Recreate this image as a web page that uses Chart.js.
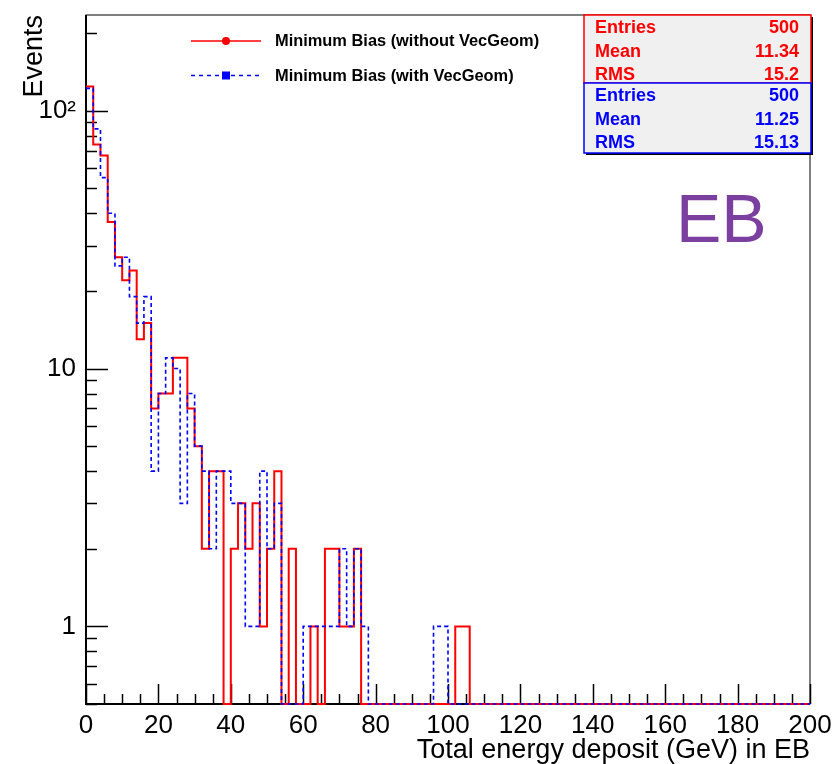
<!DOCTYPE html>
<html>
<head>
<meta charset="utf-8">
<title>Total energy deposit in EB</title>
<script src="https://cdn.jsdelivr.net/npm/chart.js@4.4.1/dist/chart.umd.min.js"></script>
<style>
  html, body { margin: 0; padding: 0; background: #fff; }
  #wrap { position: relative; width: 836px; height: 764px; }
</style>
</head>
<body>
<div id="wrap"><canvas id="edep"></canvas></div>
<script>
// histogram: 100 bins of 2 GeV between 0 and 200
const binWidth = 2;
const xMin = 0;
const xMax = 200;
const yMin = 0.5;
const yMax = 235;

const withoutVecGeom = [
  124, 74, 67, 37, 27, 22, 24, 13, 15, 7,
  8, 8, 11, 11, 7, 5, 2, 4, 4, 0,
  2, 3, 2, 3, 1, 2, 4, 0, 2, 0,
  0, 1, 0, 2, 2, 1, 1, 2, 0, 0,
  0, 0, 0, 0, 0, 0, 0, 0, 0, 0,
  0, 1, 1, 0, 0, 0, 0, 0, 0, 0,
  0, 0, 0, 0, 0, 0, 0, 0, 0, 0,
  0, 0, 0, 0, 0, 0, 0, 0, 0, 0,
  0, 0, 0, 0, 0, 0, 0, 0, 0, 0,
  0, 0, 0, 0, 0, 0, 0, 0, 0, 0
];
const withVecGeom = [
  122, 85, 55, 40, 25, 27, 19, 15, 19, 4,
  8, 11, 10, 3, 8, 5, 4, 2, 4, 4,
  3, 3, 1, 1, 4, 2, 3, 0, 0, 0,
  1, 1, 1, 1, 1, 2, 1, 2, 1, 0,
  0, 0, 0, 0, 0, 0, 0, 0, 1, 1,
  0, 0, 0, 0, 0, 0, 0, 0, 0, 0,
  0, 0, 0, 0, 0, 0, 0, 0, 0, 0,
  0, 0, 0, 0, 0, 0, 0, 0, 0, 0,
  0, 0, 0, 0, 0, 0, 0, 0, 0, 0,
  0, 0, 0, 0, 0, 0, 0, 0, 0, 0
];
const seriesNames = ["Minimum Bias (without VecGeom)", "Minimum Bias (with VecGeom)"];

const statLabels = ["Entries", "Mean", "RMS"];
const statsWithout = ["500", "11.34", "15.2"];
const statsWith = ["500", "11.25", "15.13"];

const yTickValues = [1, 10, 100];
const yTickLabels = ["1", "10", "10²"];
const xStep = 20;
const xMinorStep = 5;

const FONT = "'Liberation Sans', Arial, Helvetica, sans-serif";
const RED = "#ff0000";
const BLUE = "#0000ff";

Chart.defaults.font.family = FONT;

// empty bins sit on the bottom of the log axis
function histPoints(counts) {
  const pts = counts.map((c, i) => ({ x: i * binWidth, y: c > 0 ? c : yMin }));
  pts.push({ x: counts.length * binWidth, y: pts[pts.length - 1].y });
  return pts;
}

// ROOT style frame with ticks pointing inwards
const frameTicks = {
  id: "frameTicks",
  beforeDatasetsDraw(chart) {
    const { ctx, chartArea: a, scales: { x, y } } = chart;
    ctx.save();
    ctx.strokeStyle = "#000";
    ctx.lineWidth = 1.5;
    ctx.beginPath();
    for (let v = xMin; v <= xMax; v += xMinorStep) {
      const px = Math.round(x.getPixelForValue(v)) + 0.5;
      const len = v % xStep === 0 ? 20 : 10;
      ctx.moveTo(px, a.bottom);
      ctx.lineTo(px, a.bottom - len);
    }
    for (let d = 0.1; d <= yMax; d *= 10) {
      for (let k = 1; k <= 9; k++) {
        const v = k * d;
        if (v < yMin || v > yMax) continue;
        const py = Math.round(y.getPixelForValue(v)) + 0.5;
        const len = k === 1 ? 22 : 11;
        ctx.moveTo(a.left, py);
        ctx.lineTo(a.left + len, py);
      }
    }
    ctx.stroke();
    ctx.lineWidth = 1;
    ctx.strokeRect(a.left, a.top, a.right - a.left, a.bottom - a.top);
    ctx.lineWidth = 2;
    ctx.beginPath();
    ctx.moveTo(a.left, a.top);
    ctx.lineTo(a.left, a.bottom);
    ctx.lineTo(a.right, a.bottom);
    ctx.stroke();
    ctx.restore();
  }
};

function statsBox(ctx, x, y, w, h, color, values) {
  ctx.fillStyle = "#000";
  ctx.fillRect(x + 2, y + 2, w, h);
  ctx.fillStyle = "#f0f0f0";
  ctx.fillRect(x, y, w, h);
  ctx.strokeStyle = color;
  ctx.lineWidth = 1.5;
  ctx.strokeRect(x, y, w, h);
  ctx.fillStyle = color;
  ctx.font = "bold 18px " + FONT;
  ctx.textBaseline = "alphabetic";
  statLabels.forEach((lab, i) => {
    const by = y + 18 + i * 23.5;
    ctx.textAlign = "left";
    ctx.fillText(lab, x + 11, by);
    ctx.textAlign = "right";
    ctx.fillText(values[i], x + w - 12, by);
  });
}

const overlay = {
  id: "overlay",
  afterDraw(chart) {
    const ctx = chart.ctx;
    ctx.save();

    // legend
    ctx.lineWidth = 1.5;
    ctx.strokeStyle = RED;
    ctx.beginPath();
    ctx.moveTo(191, 41);
    ctx.lineTo(261, 41);
    ctx.stroke();
    ctx.fillStyle = RED;
    ctx.beginPath();
    ctx.arc(226, 41, 4, 0, Math.PI * 2);
    ctx.fill();

    ctx.strokeStyle = BLUE;
    ctx.setLineDash([4, 4]);
    ctx.beginPath();
    ctx.moveTo(191, 75.5);
    ctx.lineTo(261, 75.5);
    ctx.stroke();
    ctx.setLineDash([]);
    ctx.fillStyle = BLUE;
    ctx.fillRect(222, 71.5, 8, 8);

    ctx.fillStyle = "#000";
    ctx.font = "bold 16.4px " + FONT;
    ctx.textAlign = "left";
    ctx.textBaseline = "middle";
    ctx.fillText(seriesNames[0], 275, 41);
    ctx.fillText(seriesNames[1], 275, 76);

    // stat boxes
    statsBox(ctx, 584, 15, 227, 68, RED, statsWithout);
    statsBox(ctx, 584, 83, 227, 70, BLUE, statsWith);

    // region label
    ctx.fillStyle = "#7b3f9f";
    ctx.font = "68px " + FONT;
    ctx.textAlign = "left";
    ctx.textBaseline = "alphabetic";
    ctx.fillText("EB", 676, 242);

    ctx.restore();
  }
};

new Chart(document.getElementById("edep"), {
  type: "line",
  data: {
    datasets: [
      {
        label: seriesNames[0],
        data: histPoints(withoutVecGeom),
        borderColor: RED,
        borderWidth: 2,
        stepped: "before",
        pointRadius: 0,
        fill: false,
        clip: false,
        order: 1
      },
      {
        label: seriesNames[1],
        data: histPoints(withVecGeom),
        borderColor: BLUE,
        borderWidth: 1.6,
        borderDash: [4, 3],
        stepped: "before",
        pointRadius: 0,
        fill: false,
        clip: false,
        order: 0
      }
    ]
  },
  options: {
    responsive: true,
    maintainAspectRatio: false,
    animation: false,
    layout: { padding: { top: 15, right: 26, left: 0, bottom: 0 } },
    plugins: {
      legend: { display: false },
      tooltip: { enabled: false }
    },
    scales: {
      x: {
        type: "linear",
        min: xMin,
        max: xMax,
        grid: { display: false, drawTicks: false },
        border: { display: false },
        ticks: {
          stepSize: xStep,
          color: "#000",
          font: { size: 26 },
          padding: 6,
          maxRotation: 0,
          autoSkip: false
        },
        title: {
          display: true,
          text: "Total energy deposit (GeV) in EB",
          align: "end",
          color: "#000",
          font: { size: 27 },
          padding: { top: 0, bottom: -3 }
        },
        afterFit: (s) => { s.height = 60; s.paddingLeft = 0; s.paddingRight = 0; }
      },
      y: {
        type: "logarithmic",
        min: yMin,
        max: yMax,
        grid: { display: false, drawTicks: false },
        border: { display: false },
        afterBuildTicks: (s) => { s.ticks = yTickValues.map((v) => ({ value: v })); },
        ticks: {
          autoSkip: false,
          color: "#000",
          font: { size: 26 },
          padding: 10,
          callback: (v) => {
            const i = yTickValues.indexOf(v);
            return i >= 0 ? yTickLabels[i] : "";
          }
        },
        title: {
          display: true,
          text: "Events",
          align: "end",
          color: "#000",
          font: { size: 27 },
          padding: { top: 18, bottom: 0 }
        },
        afterFit: (s) => { s.width = 86; s.paddingTop = 0; s.paddingBottom = 0; }
      }
    }
  },
  plugins: [frameTicks, overlay]
});
</script>
</body>
</html>
